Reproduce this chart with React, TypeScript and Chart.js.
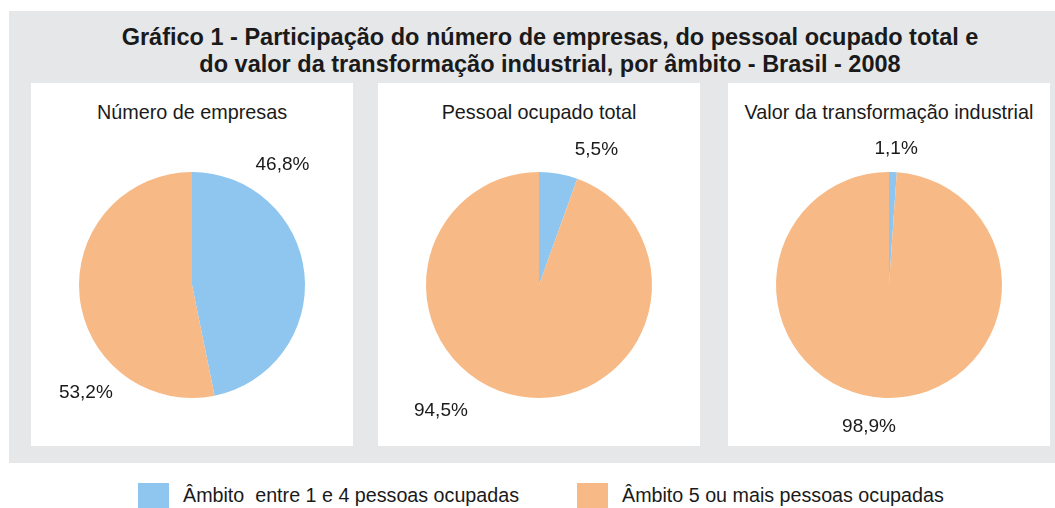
import React, { useEffect, useRef } from "react";
import { Chart, registerables } from "chart.js";

Chart.register(...registerables);

const titleLines = [
  "Gráfico 1 - Participação do número de empresas, do pessoal ocupado total e",
  "do valor da transformação industrial, por âmbito - Brasil - 2008",
];
const categories = ["Âmbito  entre 1 e 4 pessoas ocupadas", "Âmbito 5 ou mais pessoas ocupadas"];
const panelTitles = ["Número de empresas", "Pessoal ocupado total", "Valor da transformação industrial"];
const numeroEmpresas = [46.8, 53.2];
const pessoalOcupado = [5.5, 94.5];
const valorTransformacao = [1.1, 98.9];
const seriesValues = [numeroEmpresas, pessoalOcupado, valorTransformacao];

const COLORS = ["#8ec6ef", "#f7b985"];
const GRAY = "#e6e7e9";
const TEXT = "#1a1a1a";
const FONT = "'Liberation Sans', Arial, sans-serif";

// label placement per panel: [angle from top (deg, clockwise), distance factor of radius]
const labelPlacement = [
  [[37, 1.33], [224.5, 1.34]],
  [[23, 1.3], [218, 1.41]],
  [[3, 1.21], [188, 1.27]],
];

const fmt = (v: number) => v.toFixed(1).replace(".", ",") + "%";

function Pie({ values, place }: { values: number[]; place: number[][] }) {
  const ref = useRef<HTMLCanvasElement>(null);
  useEffect(() => {
    if (!ref.current) return;
    const labelPlugin = {
      id: "pctLabels",
      afterDraw(chart: any) {
        const meta = chart.getDatasetMeta(0);
        const ctx = chart.ctx;
        ctx.save();
        ctx.font = `19px ${FONT}`;
        ctx.fillStyle = TEXT;
        ctx.textAlign = "center";
        ctx.textBaseline = "middle";
        meta.data.forEach((arc: any, i: number) => {
          const [deg, f] = place[i];
          const a = (deg * Math.PI) / 180;
          const r = arc.outerRadius * f;
          ctx.fillText(fmt(values[i]), arc.x + r * Math.sin(a), arc.y - r * Math.cos(a));
        });
        ctx.restore();
      },
    };
    const chart = new Chart(ref.current, {
      type: "pie",
      data: {
        labels: categories,
        datasets: [{ data: values, backgroundColor: COLORS, borderWidth: 0 }],
      },
      options: {
        animation: false,
        responsive: false,
        maintainAspectRatio: false,
        layout: { padding: { top: 89, bottom: 48, left: 0, right: 0 } },
        plugins: { legend: { display: false }, tooltip: { enabled: false }, title: { display: false } },
      },
      plugins: [labelPlugin],
    });
    return () => chart.destroy();
  }, [values, place]);
  return <canvas ref={ref} width={322} height={363} style={{ position: "absolute", left: 0, top: 0 }} />;
}

const panelLefts = [31, 378, 728];

export default function App() {
  return (
    <div style={{ position: "absolute", left: 0, top: 0, width: 1055, height: 508, background: "#fff", fontFamily: FONT, color: TEXT, overflow: "hidden" }}>
      <div style={{ position: "absolute", left: 9, top: 11, width: 1046, height: 452, background: GRAY }} />
      <div style={{ position: "absolute", left: 0, top: 24, width: 1100, textAlign: "center", fontWeight: "bold", fontSize: 23.5, lineHeight: "27px" }}>
        {titleLines.map((l, i) => (
          <div key={i}>{l}</div>
        ))}
      </div>
      {panelLefts.map((left, i) => (
        <div key={i} style={{ position: "absolute", left, top: 83, width: 322, height: 363, background: "#fff" }}>
          <div style={{ position: "absolute", left: 0, top: 18, width: 322, textAlign: "center", fontSize: 19.8, lineHeight: "22px", whiteSpace: "nowrap" }}>
            {panelTitles[i]}
          </div>
          <Pie values={seriesValues[i]} place={labelPlacement[i]} />
        </div>
      ))}
      {categories.map((c, i) => (
        <div key={i} style={{ position: "absolute", left: [138, 577][i], top: 483, height: 25, display: "flex", alignItems: "center" }}>
          <div style={{ width: 31, height: 25, background: COLORS[i] }} />
          <div style={{ marginLeft: 14, fontSize: 19.7, whiteSpace: "pre" }}>{c}</div>
        </div>
      ))}
    </div>
  );
}
